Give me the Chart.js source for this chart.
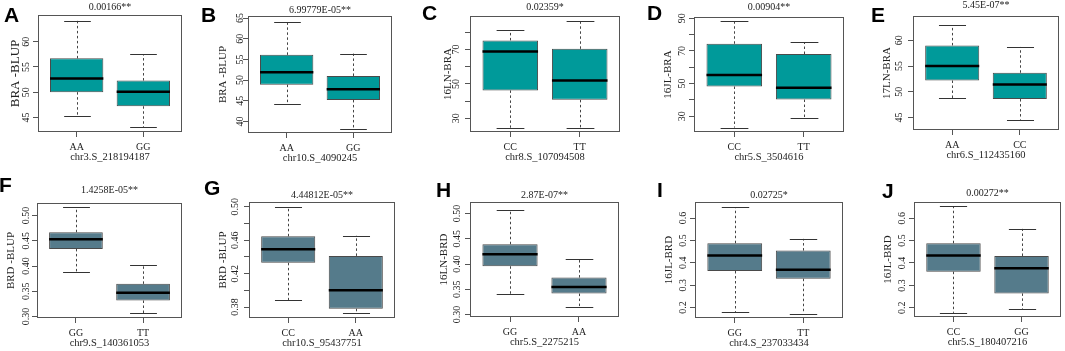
<!DOCTYPE html>
<html>
<head>
<meta charset="utf-8">
<script src="https://cdn.jsdelivr.net/npm/chart.js@4.4.1/dist/chart.umd.min.js"></script>
<style>
  html, body { margin: 0; padding: 0; background: #fff; }
  body { width: 1065px; height: 351px; position: relative; overflow: hidden; }
  .panel { position: absolute; }
  .tag { position: absolute; font: bold 21px "Liberation Sans", Arial, sans-serif; line-height: 21px; color: #000; }
</style>
</head>
<body>
<script>
// each box: [lower whisker, Q1, median, Q3, upper whisker]
const catsA = ['AA', 'GG'];
const boxA = [[45.3, 50.0, 52.7, 56.7, 64.2], [43.0, 47.2, 50.1, 52.3, 57.5]];
const ticksA = [45, 50, 55, 60];
const labelsA = ['45', '50', '55', '60'];

const catsB = ['AA', 'GG'];
const boxB = [[44.1, 48.9, 51.9, 56.1, 64.0], [38.1, 45.2, 47.8, 51.0, 56.4]];
const ticksB = [40, 45, 50, 55, 60, 65];
const labelsB = ['40', '45', '50', '55', '60', '65'];

const catsC = ['CC', 'TT'];
const boxC = [[24.5, 46.2, 68.8, 75.3, 81.1], [24.5, 40.7, 52.0, 70.4, 86.6]];
const ticksC = [30, 40, 50, 60, 70, 80];
const labelsC = ['30', '', '50', '', '70', ''];

const catsD = ['CC', 'TT'];
const boxD = [[23.0, 48.2, 55.2, 74.4, 88.4], [28.8, 40.2, 47.4, 68.1, 75.3]];
const ticksD = [30, 40, 50, 60, 70, 80, 90];
const labelsD = ['30', '', '50', '', '70', '', '90'];

const catsE = ['AA', 'CC'];
const boxE = [[48.8, 52.2, 55.0, 59.0, 62.9], [44.6, 48.6, 51.4, 53.7, 58.7]];
const ticksE = [45, 50, 55, 60];
const labelsE = ['45', '50', '55', '60'];

const catsF = ['GG', 'TT'];
const boxF = [[0.389, 0.434, 0.453, 0.467, 0.5165], [0.3066, 0.3317, 0.3469, 0.3647, 0.4023]];
const ticksF = [0.30, 0.35, 0.40, 0.45, 0.50];
const labelsF = ['0.30', '0.35', '0.40', '0.45', '0.50'];

const catsG = ['CC', 'AA'];
const boxG = [[0.388, 0.4329, 0.4491, 0.4646, 0.500], [0.3728, 0.378, 0.4003, 0.4412, 0.4654]];
const ticksG = [0.38, 0.40, 0.42, 0.44, 0.46, 0.48, 0.50];
const labelsG = ['0.38', '', '0.42', '', '0.46', '', '0.50'];

const catsH = ['GG', 'AA'];
const boxH = [[0.3403, 0.3957, 0.4195, 0.4393, 0.5066], [0.3145, 0.3416, 0.3548, 0.3733, 0.4096]];
const ticksH = [0.30, 0.35, 0.40, 0.45, 0.50];
const labelsH = ['0.30', '0.35', '0.40', '0.45', '0.50'];

const catsI = ['GG', 'TT'];
const boxI = [[0.1805, 0.3633, 0.4322, 0.4876, 0.6494], [0.173, 0.3288, 0.3693, 0.4547, 0.5071]];
const ticksI = [0.2, 0.3, 0.4, 0.5, 0.6];
const labelsI = ['0.2', '0.3', '0.4', '0.5', '0.6'];

const catsJ = ['CC', 'GG'];
const boxJ = [[0.1776, 0.3612, 0.4328, 0.4881, 0.6522], [0.1925, 0.2642, 0.3761, 0.4313, 0.5522]];
const ticksJ = [0.2, 0.3, 0.4, 0.5, 0.6];
const labelsJ = ['0.2', '0.3', '0.4', '0.5', '0.6'];

const traits = ['BRA -BLUP', 'BRA -BLUP', '16LN-BRA', '16JL-BRA', '17LN-BRA',
  'BRD -BLUP', 'BRD -BLUP', '16LN-BRD', '16JL-BRD', '16JL-BRD'];
const markers = ['chr3.S_218194187', 'chr10.S_4090245', 'chr8.S_107094508', 'chr5.S_3504616', 'chr6.S_112435160',
  'chr9.S_140361053', 'chr10.S_95437751', 'chr5.S_2275215', 'chr4.S_237033434', 'chr5.S_180407216'];
const pvals = ['0.00166**', '6.99779E-05**', '0.02359*', '0.00904**', '5.45E-07**',
  '1.4258E-05**', '4.44812E-05**', '2.87E-07**', '0.02725*', '0.00272**'];
const yLimits = [[42.1, 65.3], [37.2, 65.5], [22.0, 89.5], [20.3, 90.8], [42.6, 64.7],
  [0.297, 0.525], [0.367, 0.5056], [0.2952, 0.523], [0.153, 0.672], [0.159, 0.672]];

const letters = ['A', 'B', 'C', 'D', 'E', 'F', 'G', 'H', 'I', 'J'];
const cats = [catsA, catsB, catsC, catsD, catsE, catsF, catsG, catsH, catsI, catsJ];
const boxes = [boxA, boxB, boxC, boxD, boxE, boxF, boxG, boxH, boxI, boxJ];
const tickVals = [ticksA, ticksB, ticksC, ticksD, ticksE, ticksF, ticksG, ticksH, ticksI, ticksJ];
const tickLabels = [labelsA, labelsB, labelsC, labelsD, labelsE, labelsF, labelsG, labelsH, labelsI, labelsJ];

// layout (page pixels): plot frame [left, top, right, bottom]
const frames = [[38, 15, 182, 132], [248, 16, 392, 133], [470, 16, 620, 132], [694, 17, 844, 132], [913, 16, 1059, 130],
  [37, 203, 182, 318], [249, 202, 395, 318], [470, 202, 619, 317], [695, 202, 843, 318], [914, 202, 1061, 317]];
const titleY = [7, 10, 7, 7, 5, 190, 195, 195, 195, 193];
const tickGap = [12, 8, 14, 12, 14, 11, 14, 13, 12, 12];
const ylabGap = [22, 25, 22, 26, 26, 26, 26, 26, 26, 26];
const ylabSize = [13, 11, 11, 11, 11, 11, 11, 11, 11, 11];
const tagPos = [[5, 7], [202, 7], [423, 5], [648, 5], [872, 7], [0, 177], [205, 180], [437, 182], [658, 182], [883, 183]];
const teal = '#009a9a', slate = '#557b8b';

const yW = 34, xH = 36, titleH = 20, padR = 3, tickLen = 5;
const serif = '"Liberation Serif", "Times New Roman", serif';

const mctx = document.createElement('canvas').getContext('2d');
function textW(s, size) {
  mctx.font = size + 'px ' + serif;
  return mctx.measureText(s).width;
}

const boxParts = {
  id: 'boxParts',
  afterDatasetsDraw(chart, args, opts) {
    const { ctx, scales: { y } } = chart;
    const meta = chart.getDatasetMeta(0);
    ctx.save();
    meta.data.forEach((bar, i) => {
      const [lo, q1, med, q3, hi] = opts.box[i];
      const cx = Math.round(bar.x) + 0.5;
      const half = bar.width / 2;
      const pLo = y.getPixelForValue(lo), pQ1 = y.getPixelForValue(q1);
      const pQ3 = y.getPixelForValue(q3), pHi = y.getPixelForValue(hi);
      ctx.strokeStyle = '#444';
      ctx.lineWidth = 1;
      ctx.setLineDash([2.5, 2.5]);
      ctx.beginPath();
      ctx.moveTo(cx, pQ3); ctx.lineTo(cx, pHi);
      ctx.moveTo(cx, pQ1); ctx.lineTo(cx, pLo);
      ctx.stroke();
      ctx.setLineDash([]);
      ctx.strokeStyle = '#333';
      ctx.beginPath();
      ctx.moveTo(cx - half / 2, Math.round(pHi) + 0.5); ctx.lineTo(cx + half / 2, Math.round(pHi) + 0.5);
      ctx.moveTo(cx - half / 2, Math.round(pLo) + 0.5); ctx.lineTo(cx + half / 2, Math.round(pLo) + 0.5);
      ctx.stroke();
      ctx.strokeStyle = '#000';
      ctx.lineWidth = 2.5;
      const pMed = y.getPixelForValue(med);
      ctx.beginPath();
      ctx.moveTo(bar.x - half, pMed); ctx.lineTo(bar.x + half, pMed);
      ctx.stroke();
    });
    ctx.restore();
  },
  afterDraw(chart) {
    const { ctx, chartArea: a } = chart;
    ctx.save();
    ctx.strokeStyle = '#555';
    ctx.lineWidth = 1;
    ctx.strokeRect(Math.round(a.left) + 0.5, Math.round(a.top) + 0.5, Math.round(a.width) - 1, Math.round(a.height) - 1);
    ctx.restore();
  }
};

letters.forEach((letter, k) => {
  const [L, T, R, B] = frames[k];
  const W = yW + (R - L) + padR, H = titleH + (B - T) + xH;
  const wrap = document.createElement('div');
  wrap.className = 'panel';
  wrap.style.left = (L - yW) + 'px';
  wrap.style.top = (T - titleH) + 'px';
  const cv = document.createElement('canvas');
  cv.width = W; cv.height = H;
  cv.style.width = W + 'px'; cv.style.height = H + 'px';
  wrap.appendChild(cv);
  document.body.appendChild(wrap);

  const tag = document.createElement('div');
  tag.className = 'tag';
  tag.textContent = letter;
  tag.style.left = (tagPos[k][0] - 1) + 'px';
  tag.style.top = (tagPos[k][1] - 3) + 'px';
  document.body.appendChild(tag);

  const labels = tickLabels[k];
  const widest = Math.max(...labels.map(s => textW(s, 10)));
  const tPad = titleY[k] - (T - titleH) - 6;
  const yl = ylabSize[k] * 1.2;
  const fill = k < 5 ? teal : slate;

  new Chart(cv, {
    type: 'bar',
    data: {
      datasets: [{
        data: boxes[k].map((b, i) => ({ x: i + 1, y: [b[1], b[3]] })),
        backgroundColor: fill,
        borderColor: '#4a4a4a',
        borderWidth: 1,
        borderSkipped: false,
        barPercentage: 0.8,
        categoryPercentage: 1
      }]
    },
    options: {
      responsive: false,
      animation: false,
      devicePixelRatio: 1,
      layout: { padding: { left: 0, right: padR, top: 0, bottom: 0 } },
      plugins: {
        legend: { display: false },
        tooltip: { enabled: false },
        title: {
          display: true,
          text: pvals[k],
          fullSize: false,
          color: '#222',
          font: { family: serif, size: 10, weight: 'normal' },
          padding: { top: tPad, bottom: titleH - 12 - tPad }
        },
        boxParts: { box: boxes[k] }
      },
      scales: {
        x: {
          type: 'linear',
          min: 0.42,
          max: 2.58,
          offset: false,
          afterBuildTicks: s => { s.ticks = cats[k].map((c, i) => ({ value: i + 1 })); },
          afterFit: s => { s.height = xH; },
          border: { display: false },
          grid: { drawOnChartArea: false, drawTicks: true, tickLength: tickLen, color: '#555', offset: false },
          ticks: {
            autoSkip: false, maxRotation: 0, padding: 4, color: '#222',
            font: { family: serif, size: 10 },
            callback: (v, i) => cats[k][i]
          },
          title: {
            display: true, text: markers[k], color: '#222',
            font: { family: serif, size: 10.5 },
            padding: { top: 0, bottom: 4.7 }
          }
        },
        y: {
          min: yLimits[k][0],
          max: yLimits[k][1],
          afterBuildTicks: s => { s.ticks = tickVals[k].map(v => ({ value: v })); },
          afterFit: s => { s.width = yW; },
          border: { display: false },
          grid: { drawOnChartArea: false, drawTicks: true, tickLength: tickLen, color: '#555' },
          ticks: {
            autoSkip: false, minRotation: 90, maxRotation: 90, crossAlign: 'center',
            padding: tickGap[k] - tickLen - widest / 2, color: '#222',
            font: { family: serif, size: 10 },
            callback: (v, i) => labels[i]
          },
          title: {
            display: true, text: traits[k], color: '#222',
            font: { family: serif, size: ylabSize[k] },
            padding: { top: yW - ylabGap[k] - yl / 2, bottom: 0 }
          }
        }
      }
    },
    plugins: [boxParts]
  });
});
</script>
</body>
</html>
